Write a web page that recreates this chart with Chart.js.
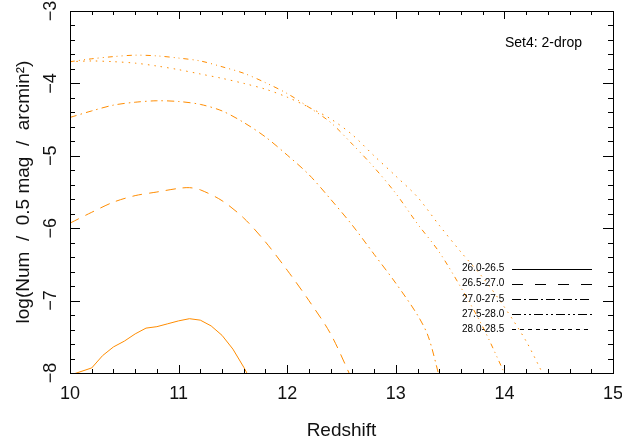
<!DOCTYPE html>
<html>
<head>
<meta charset="utf-8">
<script src="https://cdn.jsdelivr.net/npm/chart.js@4.4.1/dist/chart.umd.min.js"></script>
<style>
  html, body { margin: 0; padding: 0; background: #fff; }
  #wrap { width: 622px; height: 441px; }
</style>
</head>
<body>
<div id="wrap"><canvas id="zChart" width="622" height="441"></canvas></div>
<script>
// magnitude bins shown in the legend
const magBins = ['26.0-26.5', '26.5-27.0', '27.0-27.5', '27.5-28.0', '28.0-28.5'];

// redshift / log counts, one pair of arrays per bin
const z1 = [10.0, 10.2, 10.3, 10.4, 10.5, 10.6, 10.7, 10.8, 10.9, 11.0, 11.1, 11.2, 11.3, 11.4, 11.5, 11.6, 11.7];
const n1 = [-8.03, -7.93, -7.76, -7.64, -7.56, -7.46, -7.38, -7.36, -7.32, -7.28, -7.25, -7.27, -7.35, -7.48, -7.67, -7.92, -8.2];

const z2 = [10.0, 10.2, 10.4, 10.6, 10.8, 11.0, 11.1, 11.2, 11.4, 11.6, 11.8, 12.0, 12.2, 12.4, 12.6];
const n2 = [-5.93, -5.78, -5.64, -5.55, -5.50, -5.45, -5.44, -5.47, -5.62, -5.86, -6.19, -6.58, -7.0, -7.46, -8.1];

const z3 = [10.0, 10.2, 10.4, 10.6, 10.8, 11.0, 11.2, 11.4, 11.6, 11.8, 12.0, 12.2, 12.4, 12.6, 12.8, 13.0, 13.2, 13.3, 13.4];
const n3 = [-4.47, -4.38, -4.30, -4.26, -4.24, -4.25, -4.29, -4.38, -4.54, -4.74, -4.99, -5.26, -5.60, -5.96, -6.36, -6.76, -7.2, -7.5, -8.05];

const z4 = [10.0, 10.2, 10.4, 10.6, 10.8, 11.0, 11.2, 11.4, 11.6, 11.8, 12.0, 12.2, 12.4, 12.6, 12.8, 13.0, 13.2, 13.4, 13.6, 13.8, 14.0];
const n4 = [-3.70, -3.66, -3.63, -3.61, -3.62, -3.65, -3.69, -3.77, -3.86, -3.99, -4.14, -4.33, -4.54, -4.84, -5.16, -5.52, -5.94, -6.33, -6.82, -7.36, -8.0];

const z5 = [10.0, 10.2, 10.4, 10.6, 10.8, 11.0, 11.2, 11.4, 11.6, 11.8, 12.0, 12.2, 12.4, 12.6, 12.8, 13.0, 13.2, 13.4, 13.6, 13.8, 14.0, 14.2, 14.35];
const n5 = [-3.70, -3.69, -3.70, -3.72, -3.76, -3.81, -3.87, -3.93, -4.00, -4.08, -4.19, -4.33, -4.49, -4.71, -5.00, -5.28, -5.57, -5.96, -6.33, -6.68, -7.09, -7.56, -8.0];

// axis ticks
const xTicks = [10, 11, 12, 13, 14, 15];
const yTicks = [-8, -7, -6, -5, -4, -3];
const minorStep = 0.2;

const orange = '#ff8c00';
const toXY = (zs, ns) => zs.map((z, i) => ({ x: z, y: ns[i] }));

const series = [
  { z: z1, n: n1, dash: [], legendDash: [], tension: 0 },
  { z: z2, n: n2, dash: [10, 7], legendDash: [11, 12], tension: 0.3 },
  { z: z3, n: n3, dash: [7, 4, 1.5, 4], legendDash: [9, 3, 2, 3], tension: 0.3 },
  { z: z4, n: n4, dash: [5, 4, 1, 4, 1, 4], legendDash: [9, 3, 2, 3, 2, 3], tension: 0.3 },
  { z: z5, n: n5, dash: [1.5, 5], legendDash: [4, 4], tension: 0.3 }
];

// ticks pointing inwards on all four sides, plus the box
const innerTicks = {
  id: 'innerTicks',
  afterDatasetsDraw(chart) {
    const { ctx, chartArea: a, scales: { x, y } } = chart;
    ctx.save();
    ctx.strokeStyle = '#000';
    ctx.lineWidth = 1;
    ctx.strokeRect(a.left + 0.5, a.top + 0.5, a.right - a.left, a.bottom - a.top);
    ctx.beginPath();
    for (let v = x.min; v <= x.max + 1e-6; v += minorStep) {
      const px = Math.round(x.getPixelForValue(v)) + 0.5;
      const len = Math.abs(v - Math.round(v)) < 1e-6 ? 8 : 4;
      ctx.moveTo(px, a.bottom); ctx.lineTo(px, a.bottom - len);
      ctx.moveTo(px, a.top); ctx.lineTo(px, a.top + len);
    }
    for (let v = y.min; v <= y.max + 1e-6; v += minorStep) {
      const py = Math.round(y.getPixelForValue(v)) + 0.5;
      const len = Math.abs(v - Math.round(v)) < 1e-6 ? 10 : 5;
      ctx.moveTo(a.left, py); ctx.lineTo(a.left + len, py);
      ctx.moveTo(a.right, py); ctx.lineTo(a.right - len, py);
    }
    ctx.stroke();
    ctx.restore();
  }
};

// legend: text on the left, black line sample on the right
const sideLegend = {
  id: 'sideLegend',
  afterDraw(chart) {
    const { ctx } = chart;
    ctx.save();
    ctx.font = '10px "Liberation Sans", Arial, sans-serif';
    ctx.fillStyle = '#000';
    ctx.textBaseline = 'middle';
    chart.data.datasets.forEach((ds, i) => {
      const yy = 268.5 + i * 15.2;
      ctx.fillText(ds.label, 462, yy);
      ctx.beginPath();
      ctx.setLineDash(ds.legendDash);
      ctx.strokeStyle = '#000';
      ctx.lineWidth = 1;
      ctx.moveTo(512, Math.round(yy) + 0.5);
      ctx.lineTo(592, Math.round(yy) + 0.5);
      ctx.stroke();
    });
    ctx.setLineDash([]);
    ctx.font = '14px "Liberation Sans", Arial, sans-serif';
    ctx.fillText('Set4: 2-drop', 505, 43);
    ctx.restore();
  }
};

Chart.defaults.font.family = '"Liberation Sans", Arial, sans-serif';
Chart.defaults.color = '#111';

new Chart(document.getElementById('zChart'), {
  type: 'line',
  data: {
    datasets: series.map((s, i) => ({
      label: magBins[i],
      data: toXY(s.z, s.n),
      borderColor: orange,
      borderWidth: 1,
      borderDash: s.dash,
      legendDash: s.legendDash,
      pointRadius: 0,
      tension: s.tension,
      fill: false
    }))
  },
  options: {
    responsive: false,
    animation: false,
    devicePixelRatio: 1,
    layout: { padding: { top: 11, right: 9, left: 0, bottom: 0 } },
    plugins: { legend: { display: false }, tooltip: { enabled: false } },
    scales: {
      x: {
        type: 'linear',
        min: 10, max: 15,
        afterBuildTicks: s => { s.ticks = xTicks.map(v => ({ value: v })); },
        afterFit: s => { s.height = 68; s.paddingLeft = 0; s.paddingRight = 0; },
        grid: { display: false, drawTicks: false },
        border: { display: false },
        ticks: { font: { size: 18 }, color: '#111', padding: 10, maxRotation: 0 },
        title: {
          display: true, text: 'Redshift', color: '#111',
          font: { size: 19, lineHeight: 1 }, padding: { top: 0, bottom: 1 }
        }
      },
      y: {
        type: 'linear',
        min: -8, max: -3,
        afterBuildTicks: s => { s.ticks = yTicks.map(v => ({ value: v })); },
        afterFit: s => { s.width = 70; s.paddingTop = 0; s.paddingBottom = 0; },
        grid: { display: false, drawTicks: false },
        border: { display: false },
        ticks: {
          font: { size: 18 }, color: '#111', padding: 9,
          minRotation: 90, maxRotation: 90, crossAlign: 'center',
          callback: v => (v < 0 ? '\u2212' : '') + Math.abs(v)
        },
        title: {
          display: true, text: 'log(Num  /  0.5 mag  /  arcmin\u00b2)', color: '#111',
          font: { size: 19, lineHeight: 1.2 }, padding: { top: 12, bottom: 0 }
        }
      }
    }
  },
  plugins: [innerTicks, sideLegend]
});
</script>
</body>
</html>
